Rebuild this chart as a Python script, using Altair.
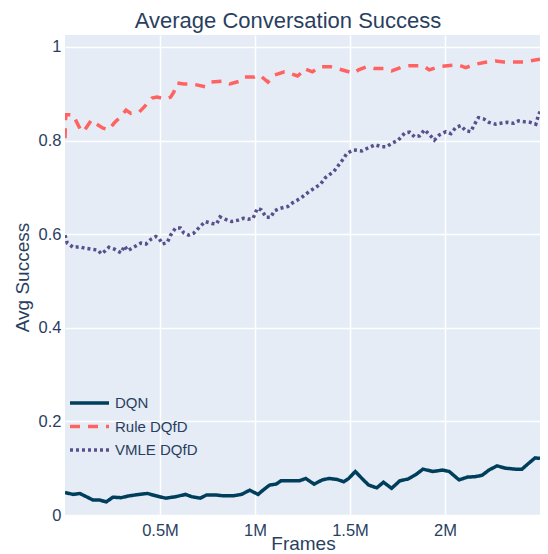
import altair as alt
import pandas as pd

chart_title = "Average Conversation Success"
series_names = ["DQN", "Rule DQfD", "VMLE DQfD"]
series_colors = ["#003f5c", "#ff6361", "#58508d"]
series_dashes = [None, [10, 8], [3, 3]]

x_ticks = [500000, 1000000, 1500000, 2000000]
y_ticks = [0, 0.2, 0.4, 0.6, 0.8, 1.0]

dqn_frames = [0, 43000, 78000, 113000, 147000, 182000, 217000, 252000, 295000, 339000,
              391000, 434000, 478000, 530000, 582000, 634000, 668000, 712000, 746000, 790000,
              833000, 885000, 929000, 972000, 1016000, 1042000, 1077000, 1111000, 1137000, 1189000,
              1233000, 1267000, 1311000, 1354000, 1389000, 1432000, 1467000, 1493000, 1528000, 1563000,
              1598000, 1641000, 1676000, 1719000, 1762000, 1806000, 1849000, 1884000, 1936000, 1988000,
              2022000, 2074000, 2118000, 2161000, 2196000, 2231000, 2274000, 2318000, 2370000, 2405000,
              2439000, 2474000, 2500000]
dqn_success = [0.048, 0.044, 0.046, 0.039, 0.032, 0.032, 0.028, 0.038, 0.037, 0.041,
               0.044, 0.046, 0.041, 0.036, 0.039, 0.044, 0.039, 0.036, 0.043, 0.043,
               0.041, 0.041, 0.044, 0.053, 0.044, 0.053, 0.064, 0.066, 0.073, 0.073,
               0.073, 0.078, 0.066, 0.075, 0.078, 0.076, 0.071, 0.078, 0.093, 0.078,
               0.064, 0.058, 0.070, 0.057, 0.073, 0.077, 0.087, 0.098, 0.093, 0.096,
               0.093, 0.075, 0.081, 0.082, 0.085, 0.096, 0.105, 0.100, 0.098, 0.098,
               0.110, 0.122, 0.121]

rule_frames = [0, 4000, 42000, 87000, 104000, 139000, 156000, 198000, 229000, 260000,
               286000, 321000, 347000, 391000, 417000, 458000, 484000, 530000, 556000, 573000,
               589000, 625000, 667000, 693000, 738000, 771000, 833000, 868000, 920000, 946000,
               998000, 1024000, 1068000, 1103000, 1155000, 1181000, 1224000, 1250000, 1259000, 1302000,
               1328000, 1344000, 1396000, 1432000, 1493000, 1519000, 1545000, 1589000, 1630000, 1676000,
               1719000, 1780000, 1813000, 1884000, 1917000, 1969000, 2014000, 2066000, 2109000, 2161000,
               2205000, 2266000, 2309000, 2370000, 2413000, 2474000, 2500000]
rule_success = [0.805, 0.855, 0.855, 0.819, 0.823, 0.844, 0.838, 0.827, 0.823, 0.838,
                0.848, 0.865, 0.858, 0.861, 0.872, 0.891, 0.893, 0.889, 0.893, 0.904,
                0.923, 0.921, 0.921, 0.919, 0.915, 0.925, 0.927, 0.921, 0.927, 0.936,
                0.936, 0.940, 0.925, 0.940, 0.947, 0.944, 0.938, 0.947, 0.954, 0.947,
                0.954, 0.958, 0.958, 0.954, 0.947, 0.944, 0.951, 0.958, 0.954, 0.954,
                0.949, 0.958, 0.960, 0.960, 0.951, 0.958, 0.960, 0.962, 0.956, 0.963,
                0.967, 0.970, 0.968, 0.968, 0.968, 0.972, 0.974]

vmle_frames = [0, 12000, 43000, 78000, 104000, 139000, 173000, 191000, 208000, 231000,
               260000, 295000, 313000, 330000, 365000, 399000, 426000, 452000, 478000, 495000,
               512000, 538000, 556000, 582000, 608000, 625000, 651000, 677000, 703000, 738000,
               772000, 798000, 816000, 842000, 877000, 911000, 938000, 964000, 990000, 1012000,
               1033000, 1059000, 1082000, 1103000, 1129000, 1172000, 1198000, 1224000, 1250000, 1285000,
               1319000, 1345000, 1371000, 1415000, 1441000, 1467000, 1484000, 1519000, 1563000, 1589000,
               1632000, 1667000, 1693000, 1719000, 1754000, 1788000, 1814000, 1840000, 1866000, 1892000,
               1918000, 1944000, 1970000, 2005000, 2031000, 2057000, 2083000, 2109000, 2135000, 2153000,
               2176000, 2205000, 2231000, 2266000, 2292000, 2327000, 2361000, 2387000, 2422000, 2448000,
               2478000, 2491000, 2500000]
vmle_success = [0.598, 0.581, 0.572, 0.573, 0.570, 0.568, 0.566, 0.558, 0.563, 0.572,
                0.568, 0.560, 0.575, 0.565, 0.573, 0.581, 0.579, 0.589, 0.595, 0.591,
                0.579, 0.582, 0.598, 0.613, 0.613, 0.603, 0.598, 0.602, 0.613, 0.627,
                0.623, 0.622, 0.637, 0.632, 0.627, 0.630, 0.634, 0.632, 0.634, 0.655,
                0.652, 0.636, 0.636, 0.650, 0.655, 0.659, 0.667, 0.673, 0.680, 0.691,
                0.700, 0.707, 0.721, 0.734, 0.748, 0.762, 0.773, 0.780, 0.778, 0.783,
                0.791, 0.787, 0.787, 0.794, 0.801, 0.816, 0.818, 0.808, 0.810, 0.823,
                0.813, 0.801, 0.812, 0.819, 0.815, 0.828, 0.832, 0.821, 0.819, 0.833,
                0.849, 0.846, 0.839, 0.835, 0.837, 0.839, 0.837, 0.842, 0.840, 0.839,
                0.835, 0.853, 0.862]

rows = []
for name, fr, val in [("DQN", dqn_frames, dqn_success),
                      ("Rule DQfD", rule_frames, rule_success),
                      ("VMLE DQfD", vmle_frames, vmle_success)]:
    for f, v in zip(fr, val):
        rows.append({"series": name, "frame": f, "success": v})
df = pd.DataFrame(rows)

TXT = "#2a3f5f"
FONT = "Liberation Sans"

dash_range = [[1, 0] if d is None else d for d in series_dashes]

lines = alt.Chart(df).mark_line(strokeWidth=3.5, clip=True).encode(
    x=alt.X("frame:Q",
            scale=alt.Scale(domain=[0, 2500000], nice=False, zero=False),
            axis=alt.Axis(values=x_ticks, labelExpr="datum.value/1000000 + 'M'",
                          title="Frames", titleX=238, titleY=34,
                          titleBaseline="alphabetic", labelPadding=7)),
    y=alt.Y("success:Q",
            scale=alt.Scale(domain=[0, 1.0256], nice=False, zero=False),
            axis=alt.Axis(values=y_ticks, format="~g", title="Avg Success", titleX=-43, titleY=242,
                          titleAngle=-90, titleAlign="center", titleBaseline="middle",
                          labelPadding=4)),
    color=alt.Color("series:N", scale=alt.Scale(domain=series_names, range=series_colors),
                    legend=None),
    strokeDash=alt.StrokeDash("series:N", scale=alt.Scale(domain=series_names, range=dash_range),
                              legend=None),
    order="frame:Q",
)

title_layer = alt.Chart(alt.Data(values=[{"t": chart_title}])).mark_text(
    align="center", baseline="alphabetic", font=FONT, fontSize=22, color=TXT
).encode(x=alt.value(223), y=alt.value(-7), text="t:N")

legend_layers = []
for i, name in enumerate(series_names):
    ypos = 368 + 23.5 * i
    kw = dict(color=series_colors[i], strokeWidth=3.5)
    if series_dashes[i] is not None:
        kw["strokeDash"] = series_dashes[i]
    legend_layers.append(
        alt.Chart(alt.Data(values=[{"s": name}])).mark_rule(**kw).encode(
            x=alt.value(5), x2=alt.value(44), y=alt.value(ypos)))
    legend_layers.append(
        alt.Chart(alt.Data(values=[{"s": name}])).mark_text(
            align="left", baseline="middle", font=FONT, fontSize=15, color=TXT
        ).encode(x=alt.value(50), y=alt.value(ypos), text="s:N"))

chart = alt.layer(lines, title_layer, *legend_layers).properties(
    width=475, height=480,
    autosize=alt.AutoSizeParams(type="none"),
    padding={"left": 57, "top": 27, "right": 0, "bottom": 39},
).configure_view(
    fill="#E5ECF6", stroke=None
).configure_axis(
    grid=True, gridColor="white", gridWidth=1.5, domain=False, ticks=False, tickSize=0,
    labelColor=TXT, labelFont=FONT, labelFontSize=16.5,
    titleColor=TXT, titleFont=FONT, titleFontSize=19, titleFontWeight="normal",
)

chart.save("out.html", embed_options={"renderer": "svg", "actions": False})
